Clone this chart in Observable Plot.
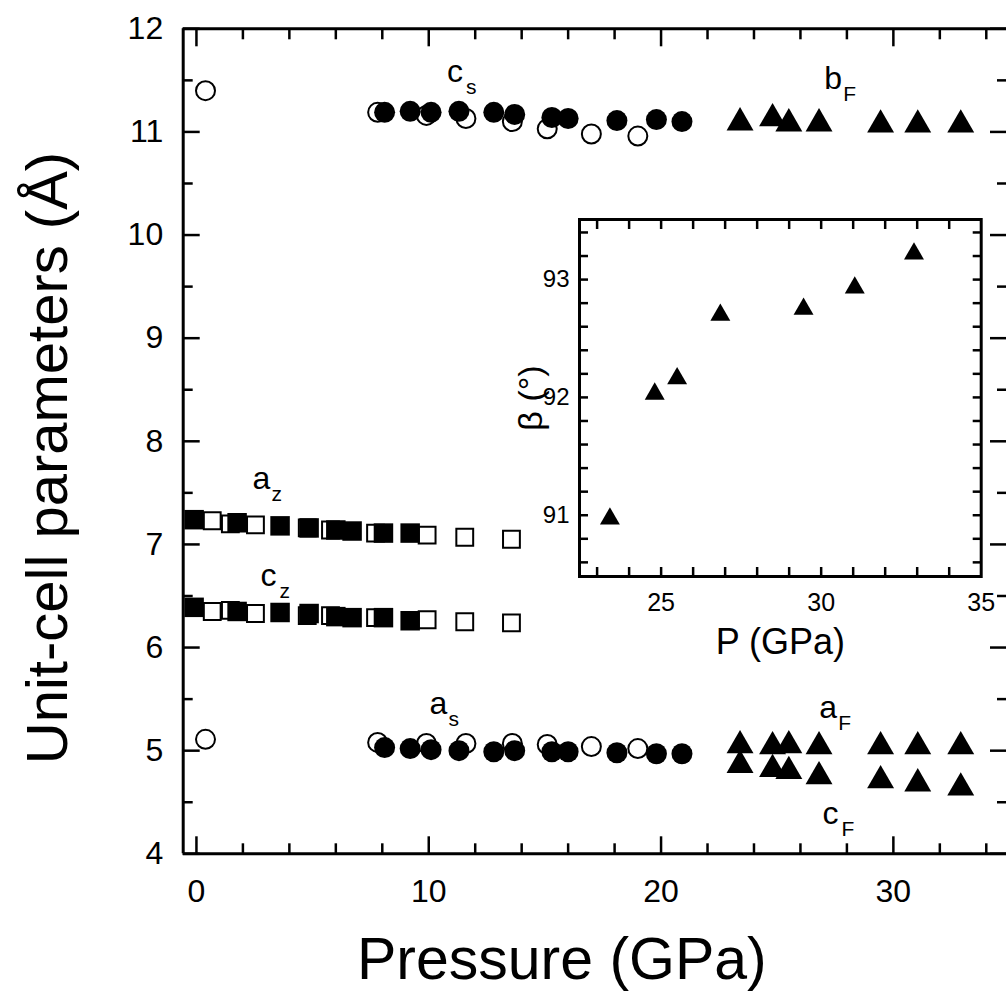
<!DOCTYPE html>
<html><head><meta charset="utf-8">
<script src="https://cdn.jsdelivr.net/npm/d3@7"></script>
<script src="https://cdn.jsdelivr.net/npm/@observablehq/plot@0.6"></script>
<style>
html,body{margin:0;padding:0;background:#fff;overflow:hidden;}
#wrap{position:relative;width:1006px;height:997px;}
#inset{position:absolute;left:500px;top:200px;}
svg{display:block}
</style></head><body><div id="wrap"><div id="main"></div><div id="inset"></div></div>
<script>
// ---------- data (main panel) ----------
// open circles: pressure, a_s, c_s
const openCircleP = [0.39, 7.8, 9.9, 11.6, 13.6, 15.1, 17.0, 19.0];
const openCircleA = [5.11, 5.08, 5.07, 5.07, 5.07, 5.06, 5.04, 5.02];
const openCircleC = [11.40, 11.19, 11.16, 11.13, 11.10, 11.03, 10.98, 10.96];
// filled circles: pressure, a_s, c_s
const filledCircleP = [8.1, 9.2, 10.1, 11.3, 12.8, 13.7, 15.3, 16.0, 18.1, 19.8, 20.9];
const filledCircleA = [5.03, 5.02, 5.01, 5.00, 4.99, 5.00, 4.99, 4.99, 4.98, 4.97, 4.97];
const filledCircleC = [11.19, 11.20, 11.19, 11.20, 11.19, 11.17, 11.14, 11.13, 11.11, 11.12, 11.10];
// open squares: pressure, a_z, c_z
const openSquareP = [0.68, 1.46, 2.54, 4.77, 5.77, 7.71, 9.93, 11.55, 13.56];
const openSquareA = [7.23, 7.20, 7.19, 7.16, 7.14, 7.11, 7.09, 7.07, 7.05];
const openSquareC = [6.35, 6.36, 6.33, 6.31, 6.31, 6.29, 6.27, 6.25, 6.24];
// filled squares: pressure, a_z, c_z
const filledSquareP = [-0.1, 1.75, 3.6, 4.85, 6.0, 6.7, 8.05, 9.2];
const filledSquareA = [7.24, 7.21, 7.18, 7.16, 7.14, 7.13, 7.11, 7.11];
const filledSquareC = [6.39, 6.35, 6.34, 6.33, 6.30, 6.29, 6.29, 6.26];
// triangles (F phase): pressure, a_F, b_F, c_F
const triP = [23.4, 24.8, 25.5, 26.8, 29.45, 31.05, 32.9];
const triA = [5.05, 5.04, 5.05, 5.04, 5.04, 5.04, 5.04];
const triB = [11.09, 11.13, 11.08, 11.08, 11.07, 11.07, 11.07];
const triC = [4.86, 4.82, 4.80, 4.75, 4.71, 4.68, 4.64];
// inset: beta angle of F phase
const betaP = [23.4, 24.8, 25.5, 26.85, 29.45, 31.05, 32.9];
const betaDeg = [90.97, 92.03, 92.16, 92.70, 92.75, 92.93, 93.22];

// series labels (letter + subscript)
const labelMain = ["c", "b", "a", "c", "a", "a", "c"];
const labelSub = ["s", "F", "z", "z", "s", "F", "F"];
const labelP = [10.79, 27.03, 2.41, 2.76, 10.03, 26.81, 26.95];
const labelV = [11.48, 11.42, 7.54, 6.60, 5.36, 5.32, 4.29];

// axes
const xDomain = [-0.57, 34.87];
const yDomain = [4, 12];
const xMajorTicks = [0, 10, 20, 30];
const xMinorTicks = [2, 4, 6, 8, 12, 14, 16, 18, 22, 24, 26, 28, 32, 34];
const yMajorTicks = [4, 5, 6, 7, 8, 9, 10, 11, 12];
const yMinorTicks = [4.5, 5.5, 6.5, 7.5, 8.5, 9.5, 10.5, 11.5];
const xTitle = "Pressure (GPa)";
const yTitle = "Unit-cell parameters (Å)";

const insetXDomain = [22.45, 35];
const insetYDomain = [90.48, 93.51];
const insetXTicks = [23, 24, 25, 26, 27, 28, 29, 30, 31, 32, 33, 34];
const insetXLabels = [25, 30, 35];
const insetYTicks = [90.6, 90.8, 91, 91.2, 91.4, 91.6, 91.8, 92, 92.2, 92.4, 92.6, 92.8, 93, 93.2, 93.4];
const insetYLabels = [91, 92, 93];
const insetXTitle = "P (GPa)";
const insetYTitle = "β (°)";

const FONT = '"Liberation Sans", Arial, Helvetica, sans-serif';
const blank = () => "";
const plain = d => String(d);
const TW = 2.5;

const main = Plot.plot({
  width: 1006, height: 997,
  marginLeft: 182.7, marginRight: 0, marginTop: 28.3, marginBottom: 143.7,
  style: {fontFamily: FONT, background: "white", color: "black"},
  x: {domain: xDomain},
  y: {domain: yDomain},
  marks: [
    // frame (right side lies outside the picture)
    Plot.ruleX([xDomain[0]], {stroke: "black", strokeWidth: 3}),
    Plot.ruleY([yDomain[0], yDomain[1]], {stroke: "black", strokeWidth: 3}),
    // inward ticks
    Plot.axisX({anchor: "bottom", ticks: xMajorTicks, tickSize: -17, tickFormat: blank, strokeWidth: TW, label: null}),
    Plot.axisX({anchor: "bottom", ticks: xMinorTicks, tickSize: -10, tickFormat: blank, strokeWidth: TW, label: null}),
    Plot.axisX({anchor: "top", ticks: xMajorTicks, tickSize: -17, tickFormat: blank, strokeWidth: TW, label: null}),
    Plot.axisX({anchor: "top", ticks: xMinorTicks, tickSize: -10, tickFormat: blank, strokeWidth: TW, label: null}),
    Plot.axisY({anchor: "left", ticks: yMajorTicks, tickSize: -17, tickFormat: blank, strokeWidth: TW, label: null}),
    Plot.axisY({anchor: "left", ticks: yMinorTicks, tickSize: -10, tickFormat: blank, strokeWidth: TW, label: null}),
    Plot.axisY({anchor: "right", ticks: yMajorTicks, tickSize: -17, tickFormat: blank, strokeWidth: TW, label: null}),
    Plot.axisY({anchor: "right", ticks: yMinorTicks, tickSize: -10, tickFormat: blank, strokeWidth: TW, label: null}),
    // tick labels
    Plot.axisX({anchor: "bottom", ticks: xMajorTicks, tickSize: 0, tickPadding: 25, fontSize: 32, tickFormat: plain, label: null}),
    Plot.axisY({anchor: "left", ticks: yMajorTicks, tickSize: 0, tickPadding: 20, fontSize: 32, tickFormat: plain, label: null}),
    // titles
    Plot.text([xTitle], {frameAnchor: "bottom", text: d => d, textAnchor: "middle", dx: -33, dy: 124.7, lineAnchor: "bottom", fontSize: 59, fill: "black"}),
    Plot.text([yTitle], {frameAnchor: "left", text: d => d, textAnchor: "middle", rotate: -90, dx: -116, dy: 16.7, lineAnchor: "bottom", fontSize: 58, fill: "black"}),
    // open symbols underneath
    Plot.dot(openSquareP, {x: openSquareP, y: openSquareA, symbol: "square", r: 9.5, fill: "white", stroke: "black", strokeWidth: 2}),
    Plot.dot(openSquareP, {x: openSquareP, y: openSquareC, symbol: "square", r: 9.5, fill: "white", stroke: "black", strokeWidth: 2}),
    Plot.dot(openCircleP, {x: openCircleP, y: openCircleA, symbol: "circle", r: 9.5, fill: "white", stroke: "black", strokeWidth: 2}),
    Plot.dot(openCircleP, {x: openCircleP, y: openCircleC, symbol: "circle", r: 9.5, fill: "white", stroke: "black", strokeWidth: 2}),
    // filled symbols on top
    Plot.dot(filledSquareP, {x: filledSquareP, y: filledSquareA, symbol: "square", r: 11, fill: "black", stroke: "none"}),
    Plot.dot(filledSquareP, {x: filledSquareP, y: filledSquareC, symbol: "square", r: 11, fill: "black", stroke: "none"}),
    Plot.dot(filledCircleP, {x: filledCircleP, y: filledCircleA, symbol: "circle", r: 10.5, fill: "black", stroke: "none"}),
    Plot.dot(filledCircleP, {x: filledCircleP, y: filledCircleC, symbol: "circle", r: 10.5, fill: "black", stroke: "none"}),
    Plot.dot(triP, {x: triP, y: triA, symbol: "triangle", r: 10, fill: "black", stroke: "none"}),
    Plot.dot(triP, {x: triP, y: triB, symbol: "triangle", r: 10, fill: "black", stroke: "none"}),
    Plot.dot(triP, {x: triP, y: triC, symbol: "triangle", r: 10, fill: "black", stroke: "none"}),
    // series labels
    Plot.text(labelMain, {x: labelP, y: labelV, text: labelMain, textAnchor: "start", lineAnchor: "bottom", fontSize: 32, fill: "black"}),
    Plot.text(labelSub, {x: labelP, y: labelV, text: labelSub, textAnchor: "start", lineAnchor: "bottom", dx: 19, dy: 12, fontSize: 21, fill: "black"})
  ]
});
document.getElementById("main").appendChild(main);

const inset = Plot.plot({
  width: 500, height: 470,
  marginLeft: 79, marginRight: 19.3, marginTop: 19, marginBottom: 94,
  style: {fontFamily: FONT, background: "transparent", color: "black", overflow: "visible"},
  x: {domain: insetXDomain},
  y: {domain: insetYDomain},
  marks: [
    Plot.frame({stroke: "black", strokeWidth: 3, fill: "white"}),
    Plot.axisX({anchor: "bottom", ticks: insetXTicks, tickSize: -9, tickFormat: blank, strokeWidth: TW, label: null}),
    Plot.axisX({anchor: "top", ticks: insetXTicks, tickSize: -9, tickFormat: blank, strokeWidth: TW, label: null}),
    Plot.axisY({anchor: "left", ticks: insetYTicks, tickSize: -9, tickFormat: blank, strokeWidth: TW, label: null}),
    Plot.axisY({anchor: "right", ticks: insetYTicks, tickSize: -9, tickFormat: blank, strokeWidth: TW, label: null}),
    Plot.axisX({anchor: "bottom", ticks: insetXLabels, tickSize: 0, tickPadding: 17, fontSize: 25, tickFormat: plain, label: null}),
    Plot.axisY({anchor: "left", ticks: insetYLabels, tickSize: 0, tickPadding: 10, fontSize: 24, tickFormat: plain, label: null}),
    Plot.text([insetXTitle], {frameAnchor: "bottom", text: d => d, textAnchor: "middle", dy: 77, lineAnchor: "bottom", fontSize: 36, fill: "black"}),
    Plot.text([insetYTitle], {frameAnchor: "left", text: d => d, textAnchor: "middle", rotate: -90, dx: -38, lineAnchor: "bottom", fontSize: 34, fill: "black"}),
    Plot.dot(betaP, {x: betaP, y: betaDeg, symbol: "triangle", r: 7.4, fill: "black", stroke: "none"})
  ]
});
document.getElementById("inset").appendChild(inset);
</script></body></html>
